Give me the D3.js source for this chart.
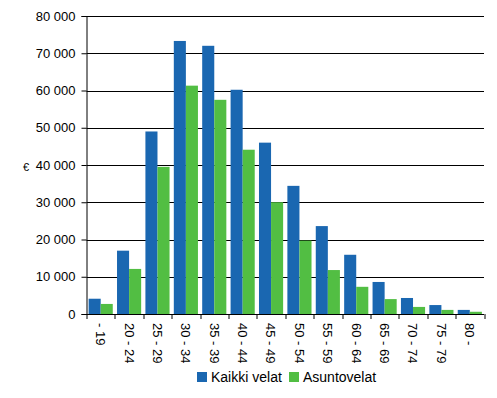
<!DOCTYPE html>
<html>
<head>
<meta charset="utf-8">
<script src="https://cdn.jsdelivr.net/npm/d3@7"></script>
<style>
  body { margin: 0; background: #fff; }
  svg { font-family: "Liberation Sans", Arial, sans-serif; }
</style>
</head>
<body>
<div id="chart"></div>
<script>
const ageGroups = ['- 19', '20 - 24', '25 - 29', '30 - 34', '35 - 39', '40 - 44', '45 - 49',
  '50 - 54', '55 - 59', '60 - 64', '65 - 69', '70 - 74', '75 - 79', '80 -'];
const kaikkiVelat = [4100, 17000, 49000, 73300, 72000, 60200, 46000, 34400, 23600, 15900, 8600, 4300, 2400, 1100];
const asuntovelat = [2700, 12100, 39500, 61300, 57500, 44100, 30000, 19700, 11800, 7300, 4000, 1900, 1100, 600];
const seriesNames = ['Kaikki velat', 'Asuntovelat'];
const yTicks = [0, 10000, 20000, 30000, 40000, 50000, 60000, 70000, 80000];

const colors = ['#1a67b1', '#52be43'];
const margin = { top: 16, right: 13, bottom: 84, left: 86.5 };
const W = 497, H = 398;
const width = W - margin.left - margin.right;
const height = H - margin.top - margin.bottom;

const svg = d3.select('#chart').append('svg')
  .attr('width', W).attr('height', H);
const g = svg.append('g')
  .attr('transform', `translate(${margin.left},${margin.top})`);

const x0 = d3.scaleBand().domain(ageGroups).range([0, width]).padding(0);
const gap = x0.bandwidth() * 0.075;
const x1 = d3.scaleBand().domain([0, 1]).range([gap, x0.bandwidth() - gap]).padding(0);
const y = d3.scaleLinear().domain([0, 80000]).range([height, 0]);

const fmt = d => d3.format(',')(d).replace(/,/g, ' ');

// gridlines
g.append('g').selectAll('line').data(yTicks.slice(1)).join('line')
  .attr('x1', 0).attr('x2', width)
  .attr('y1', d => Math.round(y(d)) + 0.5).attr('y2', d => Math.round(y(d)) + 0.5)
  .attr('stroke', '#000').attr('stroke-width', 1);

// bars
const rows = ageGroups.map((a, i) => ({ age: a, vals: [kaikkiVelat[i], asuntovelat[i]] }));
g.selectAll('.slice').data(rows).join('g')
  .attr('class', 'slice')
  .attr('transform', d => `translate(${x0(d.age)},0)`)
  .selectAll('rect').data(d => d.vals.map((v, k) => ({ k, v }))).join('rect')
  .attr('x', d => x1(d.k))
  .attr('width', x1.bandwidth())
  .attr('y', d => y(d.v))
  .attr('height', d => height - y(d.v))
  .attr('fill', d => colors[d.k]);

// y axis
const yAxis = g.append('g')
  .call(d3.axisLeft(y).tickValues(yTicks).tickFormat(fmt).tickSize(5).tickPadding(6));
yAxis.select('.domain').attr('stroke', '#000');
yAxis.selectAll('.tick line').attr('stroke', '#000');
yAxis.selectAll('text').attr('font-size', 13).attr('fill', '#000')
  .attr('font-family', '"Liberation Sans", Arial, sans-serif');

// x axis
const xAxis = g.append('g').attr('transform', `translate(0,${height})`);
xAxis.append('line').attr('x1', 0).attr('x2', width).attr('y1', 0.5).attr('y2', 0.5).attr('stroke', '#000');
const bounds = ageGroups.map(a => x0(a)).concat([width]);
xAxis.selectAll('.xt').data(bounds).join('line').attr('class', 'xt')
  .attr('x1', d => Math.round(d) + 0.5).attr('x2', d => Math.round(d) + 0.5)
  .attr('y1', 0).attr('y2', 5).attr('stroke', '#000');
xAxis.selectAll('.xl').data(ageGroups).join('text').attr('class', 'xl')
  .attr('transform', d => `translate(${x0(d) + x0.bandwidth() / 2},9) rotate(90)`)
  .attr('dy', '0.35em')
  .attr('text-anchor', 'start')
  .attr('font-size', 13)
  .text(d => d);

// euro label
svg.append('text').attr('x', 23).attr('y', 171).attr('font-size', 11).text('€');

// legend
const legend = svg.append('g').attr('transform', 'translate(197,372)');
const items = legend.selectAll('g').data(seriesNames).join('g')
  .attr('transform', (d, i) => `translate(${i * 92},0)`);
items.append('rect').attr('width', 10).attr('height', 10).attr('fill', (d, i) => colors[i]);
items.append('text').attr('x', 14).attr('y', 5).attr('dy', '0.38em')
  .attr('font-size', 14).text(d => d);
</script>
</body>
</html>
